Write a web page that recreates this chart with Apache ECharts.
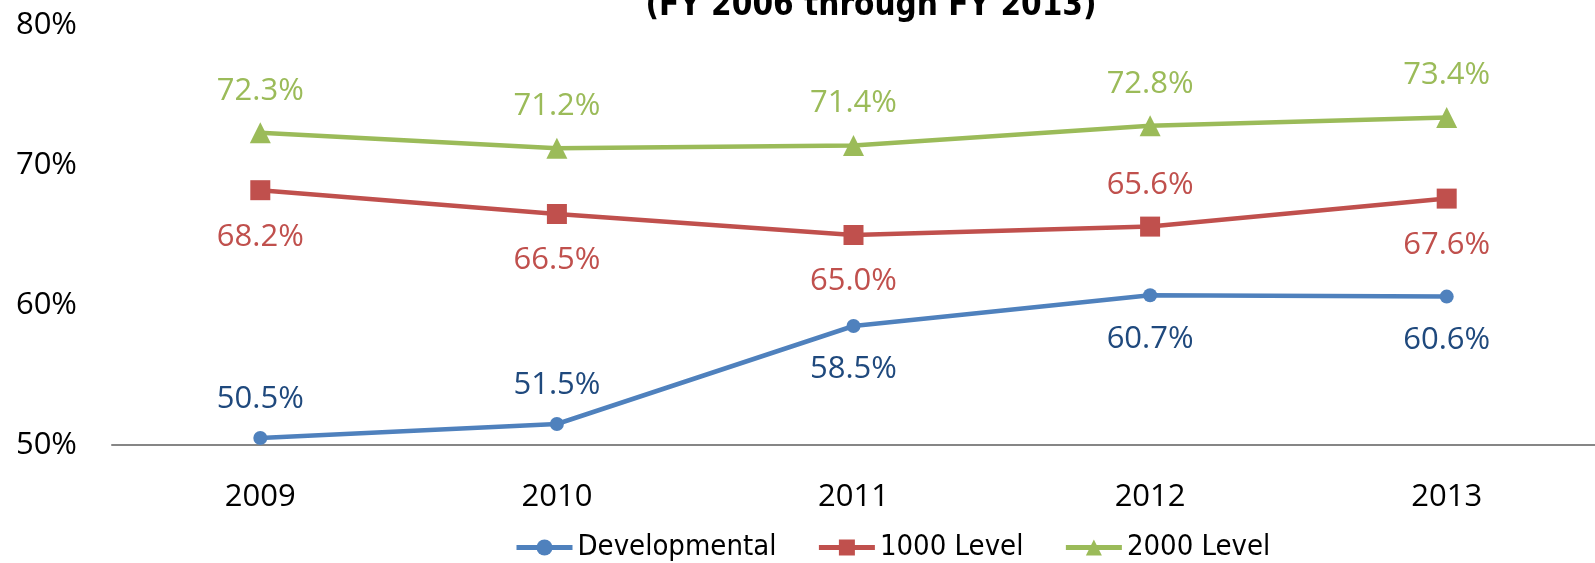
<!DOCTYPE html>
<html>
<head>
<meta charset="utf-8">
<script src="https://cdn.jsdelivr.net/npm/echarts@6/dist/echarts.min.js"></script>
<style>
    html, body { margin: 0; padding: 0; background: #fff; }
    #chart { width: 1595px; height: 563px; }
</style>
</head>
<body>
<div id="chart"></div>
<script>
    let years = ['2009', '2010', '2011', '2012', '2013']
    let seriesNames = ['Developmental', '1000 Level', '2000 Level']
    let developmental = [50.5, 51.5, 58.5, 60.7, 60.6]
    let level1000 = [68.2, 66.5, 65.0, 65.6, 67.6]
    let level2000 = [72.3, 71.2, 71.4, 72.8, 73.4]
    let yTicks = [50, 60, 70, 80]
    let titleText = '(FY 2006 through FY 2013)'

    // label above / below per point, as in the original
    let devPos = ['top', 'top', 'bottom', 'bottom', 'bottom']
    let l1000Pos = ['bottom', 'bottom', 'bottom', 'top', 'bottom']
    let l2000Pos = ['top', 'top', 'top', 'top', 'top']

    let font = '"Open Sans", "Noto Sans", sans-serif'
    let narrow = '"Liberation Sans Narrow", "DejaVu Sans Condensed", "Liberation Sans", sans-serif'

    function makeData(values, pos) {
        return values.map(function (v, i) {
            return {
                value: v,
                label: { position: pos[i], distance: pos[i] === 'top' ? 16 : 21 }
            }
        })
    }

    function makeSeries(name, values, pos, color, labelColor, symbol, size) {
        return {
            name: name,
            type: 'line',
            data: makeData(values, pos),
            symbol: symbol,
            symbolSize: size,
            color: color,
            lineStyle: { width: 4.5, color: color },
            itemStyle: { color: color },
            label: {
                show: true,
                fontSize: 31,
                fontFamily: font,
                color: labelColor,
                formatter: function (p) {
                    return p.value.toFixed(1) + '%'
                }
            }
        }
    }

    let myChart = echarts.init(document.getElementById('chart'))
    let option = {
        animation: false,
        graphic: [{
            type: 'text',
            x: 871,
            y: 23,
            style: {
                text: titleText,
                font: 'bold 33px "DejaVu Sans Condensed", "Liberation Sans", sans-serif',
                fill: '#000',
                textAlign: 'center',
                textVerticalAlign: 'bottom'
            }
        }],
        legend: {
            data: seriesNames,
            top: 528,
            left: 509,
            itemWidth: 56,
            itemHeight: 20,
            itemGap: 40,
            lineStyle: { width: 5 },
            textStyle: {
                fontSize: 29,
                fontFamily: narrow,
                color: '#000'
            }
        },
        grid: {
            left: 112,
            right: 0,
            top: 25,
            bottom: 118,
            containLabel: false
        },
        xAxis: {
            type: 'category',
            data: years,
            boundaryGap: true,
            axisLine: { lineStyle: { color: '#868686', width: 2 } },
            axisTick: { show: false },
            axisLabel: {
                fontSize: 31,
                fontFamily: font,
                color: '#000',
                margin: 37
            }
        },
        yAxis: {
            type: 'value',
            min: yTicks[0],
            max: yTicks[yTicks.length - 1],
            interval: 10,
            axisLine: { show: false },
            axisTick: { show: false },
            splitLine: { show: false },
            axisLabel: {
                fontSize: 31,
                fontFamily: font,
                color: '#000',
                margin: 35,
                formatter: '{value}%'
            }
        },
        series: [
            makeSeries(seriesNames[0], developmental, devPos, '#4F81BD', '#1F497D', 'circle', 14),
            makeSeries(seriesNames[1], level1000, l1000Pos, '#C0504D', '#C0504D', 'rect', 20),
            makeSeries(seriesNames[2], level2000, l2000Pos, '#9BBB59', '#9BBB59', 'triangle', 21)
        ]
    }
    myChart.setOption(option)
</script>
</body>
</html>
